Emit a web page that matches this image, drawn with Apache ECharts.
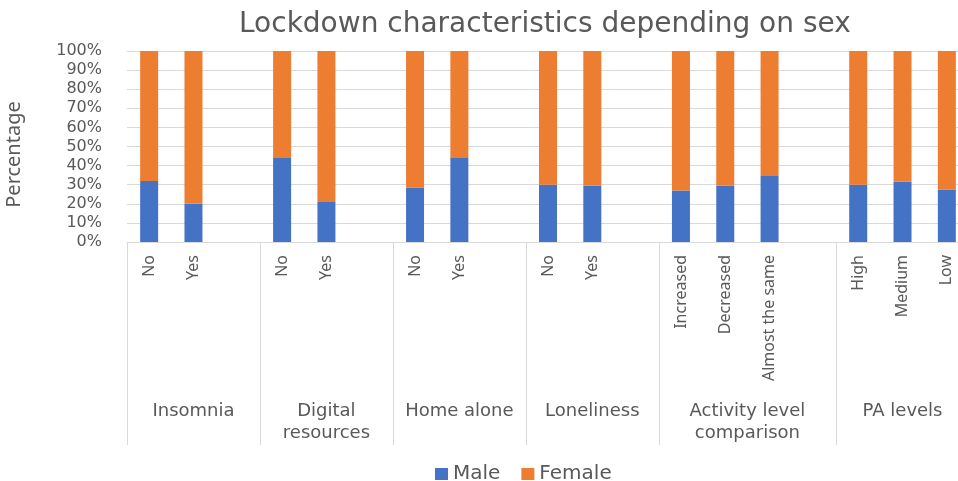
<!DOCTYPE html>
<html>
<head>
<meta charset="utf-8">
<script src="https://cdn.jsdelivr.net/npm/echarts@6/dist/echarts.min.js"></script>
<style>
  html, body { margin: 0; padding: 0; background: #fff; }
  #main { width: 958px; height: 481px; }
</style>
</head>
<body>
<div id="main"></div>
<script>
// sub categories (blank slots separate the groups, like the Excel sheet)
var subLabels = ['No', 'Yes', '', 'No', 'Yes', '', 'No', 'Yes', '', 'No', 'Yes', '',
                 'Increased', 'Decreased', 'Almost the same', '', 'High', 'Medium', 'Low'];
var groupNames = ['Insomnia', 'Digital\nresources', 'Home alone', 'Loneliness',
                  'Activity level\ncomparison', 'PA levels'];
var groupSizes = [3, 3, 3, 3, 4, 3];
var maleValues   = [32, 20, null, 44, 21, null, 28.5, 44, null, 30, 29.5, null, 27, 29.5, 34.5, null, 30, 31.5, 27.5];
var femaleValues = [68, 80, null, 56, 79, null, 71.5, 56, null, 70, 70.5, null, 73, 70.5, 65.5, null, 70, 68.5, 72.5];
var yTicks = [0, 10, 20, 30, 40, 50, 60, 70, 80, 90, 100];

var textColor = '#595959';
var gridColor = '#d9d9d9';

// group borders & centres in slot units
var borders = [0];
var centers = [];
groupSizes.forEach(function (n, i) {
    centers.push(borders[i] + n / 2);
    borders.push(borders[i] + n);
});

var myChart = echarts.init(document.getElementById('main'));

var option = {
    animation: false,
    title: {
        text: 'Lockdown characteristics depending on sex',
        left: 234,
        top: 6,
        textStyle: { fontFamily: 'DejaVu Sans', fontSize: 28, fontWeight: 'normal', color: textColor }
    },
    color: ['#4472C4', '#ED7D31'],
    legend: {
        data: ['Male', 'Female'],
        left: 430,
        top: 459,
        icon: 'rect',
        itemWidth: 13,
        itemHeight: 12,
        itemGap: 21,
        textStyle: { fontFamily: 'DejaVu Sans', fontSize: 20, color: textColor }
    },
    grid: { left: 127, right: -11, top: 51, bottom: 239, containLabel: false, outerBoundsMode: 'none' },
    xAxis: [
        {
            type: 'category',
            data: subLabels,
            axisLine: { show: true, lineStyle: { color: gridColor } },
            axisTick: {
                show: true,
                length: 203,
                interval: function (index) { return borders.indexOf(index) >= 0; },
                lineStyle: { color: gridColor }
            },
            axisLabel: {
                interval: 0,
                rotate: 90,
                margin: 13,
                fontFamily: 'Noto Sans',
                fontSize: 16,
                color: textColor
            }
        },
        {
            // group level labels
            type: 'value',
            position: 'bottom',
            offset: 150,
            min: 0,
            max: subLabels.length,
            interval: 0.5,
            axisLine: { show: false },
            axisTick: { show: false },
            splitLine: { show: false },
            axisLabel: {
                margin: 8,
                fontFamily: 'DejaVu Sans',
                fontSize: 18,
                lineHeight: 22,
                verticalAlign: 'top',
                color: textColor,
                formatter: function (v) {
                    var k = centers.indexOf(v);
                    return k >= 0 ? groupNames[k] : '';
                }
            }
        }
    ],
    yAxis: {
        type: 'value',
        min: yTicks[0],
        max: yTicks[yTicks.length - 1],
        interval: 10,
        name: 'Percentage',
        nameLocation: 'middle',
        nameRotate: 90,
        nameGap: 103,
        nameTextStyle: { fontFamily: 'Noto Sans', fontSize: 20, color: textColor, padding: [0, 16, 0, 0] },
        axisLine: { show: false },
        axisTick: { show: false },
        splitLine: { lineStyle: { color: gridColor } },
        axisLabel: {
            margin: 25,
            fontFamily: 'DejaVu Sans',
            fontSize: 16,
            color: textColor,
            formatter: '{value}%'
        }
    },
    series: [
        {
            name: 'Male',
            type: 'bar',
            stack: 'total',
            barWidth: 18,
            data: maleValues
        },
        {
            name: 'Female',
            type: 'bar',
            stack: 'total',
            barWidth: 18,
            data: femaleValues
        }
    ]
};

myChart.setOption(option);
window.addEventListener('resize', function () { myChart.resize(); });
</script>
</body>
</html>
